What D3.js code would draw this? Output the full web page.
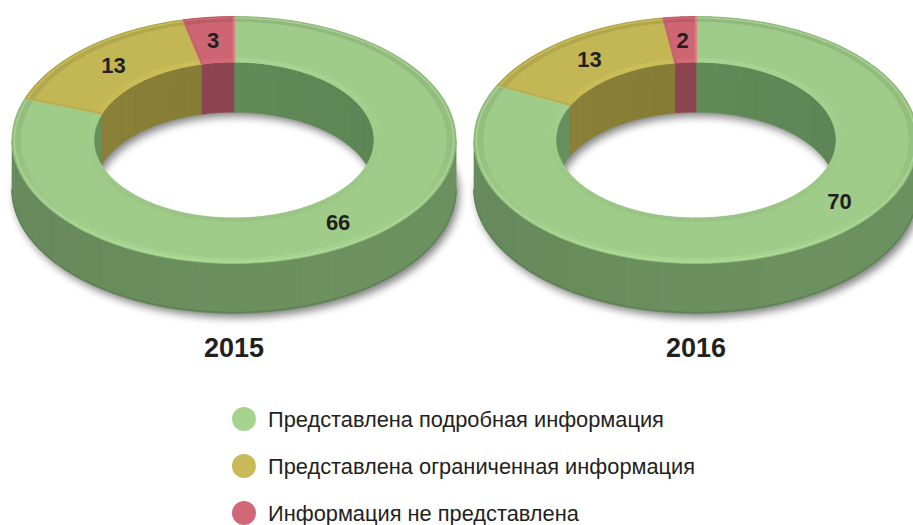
<!DOCTYPE html>
<html><head><meta charset="utf-8">
<script src="https://cdn.jsdelivr.net/npm/d3@7"></script>
<style>body{margin:0;background:#fff} svg{display:block}</style>
</head><body><svg id="c" width="913" height="525"></svg>
<script>
// ---------- data ----------
const years = ["2015", "2016"];
const categories = [
  "Представлена подробная информация",
  "Представлена ограниченная информация",
  "Информация не представлена"
];
const values2015 = [66, 13, 3];
const values2016 = [70, 13, 2];
const series = [values2015, values2016];

// ---------- layout / style ----------
const W = 913, H = 525;
const cxScale = d3.scalePoint().domain(years).range([234, 696]);
const cy = 140, R = 222, r0 = 140, tilt = 0.556, depth = 50;
const labelAngleShift = { "2015": [0, 0, 0], "2016": [-0.36, 0, 0] };
const topColor = d3.scaleOrdinal().domain(categories).range(["#a0cc8a", "#c3b755", "#cd6572"]);
const outerWallColor = d3.scaleOrdinal().domain(categories).range(["#6b8f5f", "#8a7f38", "#914755"]);
const innerWallColor = d3.scaleOrdinal().domain(categories).range(["#628a58", "#857b35", "#8c4452"]);
const legendColor = d3.scaleOrdinal().domain(categories).range(["#a6d48f", "#c8ba57", "#d06878"]);
const font = "'Liberation Sans', Arial, Helvetica, sans-serif";

const svg = d3.select("#c");
const defs = svg.append("defs");
const f = defs.append("filter").attr("id", "blur").attr("x", "-20%").attr("y", "-20%").attr("width", "140%").attr("height", "140%");
f.append("feGaussianBlur").attr("stdDeviation", 4.5);

const pie = d3.pie().sort(null).value(d => d);
const TAU = Math.PI * 2;

function P(cx, a, rad, dy) { return [cx + rad * Math.sin(a), cy - rad * Math.cos(a) * tilt + (dy || 0)]; }
function arcPts(cx, a0, a1, rad, dy) {
  const n = Math.max(2, Math.ceil(Math.abs(a1 - a0) / 0.01) + 1);
  const pts = [];
  for (let i = 0; i < n; i++) pts.push(P(cx, a0 + (a1 - a0) * i / (n - 1), rad, dy));
  return pts;
}
const line = d3.line();
function ringPath(cx, a0, a1, rin, rout) {
  return line(arcPts(cx, a0, a1, rout, 0).concat(arcPts(cx, a1, a0, rin, 0))) + "Z";
}
function wallPath(cx, a0, a1, rad) {
  return line(arcPts(cx, a0, a1, rad, 0).concat(arcPts(cx, a1, a0, rad, depth))) + "Z";
}
function ellipsePath(cx, rad, dy) {
  return line(arcPts(cx, 0, TAU, rad, dy)) + "Z";
}
function intersect(a0, a1, lo, hi) {
  const s = Math.max(a0, lo), e = Math.min(a1, hi);
  return s < e ? [s, e] : null;
}
function facets(s, e, step) {
  const out = [];
  let a = s;
  while (a < e - 1e-6) {
    const nxt = Math.min(e, (Math.floor(a / step + 1e-6) + 1) * step);
    out.push([a, nxt]);
    a = nxt;
  }
  return out;
}

years.forEach((yr, yi) => {
  const cx = cxScale(yr);
  const arcs = pie(series[yi]);
  const g = svg.append("g");

  // shadow
  g.append("path")
    .attr("d", ellipsePath(cx, R, depth) + ellipsePath(cx, r0, depth))
    .attr("fill-rule", "evenodd")
    .attr("fill", "#000").attr("opacity", 0.5)
    .attr("transform", "translate(3,4)")
    .attr("filter", "url(#blur)");

  // inner walls (far side visible)
  const step = TAU / 40;
  arcs.forEach((d, i) => {
    const cat = categories[i];
    [[0, Math.PI / 2], [3 * Math.PI / 2, TAU]].forEach(([lo, hi]) => {
      const iv = intersect(d.startAngle, d.endAngle, lo, hi);
      if (!iv) return;
      facets(iv[0], iv[1], step).forEach(([s, e]) => {
        const mid = (s + e) / 2;
        const shade = 0.06 * Math.sin(mid);
        const c = d3.color(innerWallColor(cat));
        const col = shade > 0 ? c.darker(shade * 2) : c.brighter(-shade * 2);
        g.append("path").attr("d", wallPath(cx, s, e, r0))
          .attr("fill", col).attr("stroke", col).attr("stroke-width", 0.6);
        g.append("path").attr("d", line([P(cx, s, r0, 0), P(cx, s, r0, depth)]))
          .attr("stroke", d3.color(innerWallColor(cat)).brighter(0.15)).attr("stroke-width", 0.6).attr("opacity", 0.6);
      });
    });
  });

  // outer walls (front side visible)
  arcs.forEach((d, i) => {
    const cat = categories[i];
    const iv = intersect(d.startAngle, d.endAngle, Math.PI / 2, 3 * Math.PI / 2);
    if (!iv) return;
    facets(iv[0], iv[1], step).forEach(([s, e]) => {
      const mid = (s + e) / 2;
      const c = d3.color(outerWallColor(cat));
      const t = Math.sin(mid);
      const col = t < 0 ? c.darker(-t * 0.12) : c.brighter(t * 0.04);
      g.append("path").attr("d", wallPath(cx, s, e, R))
        .attr("fill", col).attr("stroke", col).attr("stroke-width", 0.6);
      g.append("path").attr("d", line([P(cx, s, R, 0), P(cx, s, R, depth)]))
        .attr("stroke", c.brighter(0.12)).attr("stroke-width", 0.6).attr("opacity", 0.7);
    });
    g.append("path").attr("d", line(arcPts(cx, iv[0], iv[1], R, depth - 1)))
      .attr("fill", "none").attr("stroke", d3.color(outerWallColor(cat)).darker(0.3)).attr("stroke-width", 1.5);
  });

  // top faces
  arcs.forEach((d, i) => {
    const cat = categories[i];
    const base = d3.color(topColor(cat));
    g.append("path").attr("d", ringPath(cx, d.startAngle, d.endAngle, r0, R))
      .attr("fill", base);
    facets(d.startAngle, d.endAngle, TAU / 120).forEach(([s, e]) => {
      const mid = (s + e) / 2;
      const t = -Math.cos(mid);
      const col = t > 0 ? d3.interpolateRgb(base.darker(0.2), base.brighter(0.12))(t) : base.darker(0.2 + 0.08 * -t);
      g.append("path").attr("d", ringPath(cx, s, e, R - 9, R))
        .attr("fill", col).attr("stroke", col).attr("stroke-width", 0.5);
      const col2 = t > 0 ? base.darker(0.12 * t) : base.brighter(0.12 * -t);
      g.append("path").attr("d", ringPath(cx, s, e, r0, r0 + 7))
        .attr("fill", col2).attr("stroke", col2).attr("stroke-width", 0.5);
    });
    g.append("path").attr("d", line(arcPts(cx, d.startAngle, d.endAngle, R - 2.5, 0)))
      .attr("fill", "none").attr("stroke", base.brighter(0.3)).attr("stroke-width", 1.2).attr("opacity", 0.7);
    g.append("path").attr("d", line(arcPts(cx, d.startAngle, d.endAngle, R, 0)))
      .attr("fill", "none").attr("stroke", base.darker(0.5)).attr("stroke-width", 0.8).attr("opacity", 0.6);
    [d.startAngle, d.endAngle].forEach((a, k) => {
      g.append("path").attr("d", line([P(cx, a, r0, 0), P(cx, a, R, 0)]))
        .attr("stroke", k === 0 ? base.darker(0.2) : base.brighter(0.45))
        .attr("stroke-width", 2.5).attr("opacity", 0.8);
    });
  });

  // data labels
  arcs.forEach((d, i) => {
    const a = (d.startAngle + d.endAngle) / 2 + labelAngleShift[yr][i];
    const [x, y] = P(cx, a, (R + r0) / 2, 0);
    g.append("text").attr("x", x).attr("y", y).attr("dy", "0.36em")
      .attr("text-anchor", "middle")
      .attr("font-family", font).attr("font-weight", "bold").attr("font-size", 22)
      .attr("fill", "#231f20").text(d.data);
  });

  svg.append("text").attr("x", cx).attr("y", 357)
    .attr("text-anchor", "middle")
    .attr("font-family", font).attr("font-weight", "bold").attr("font-size", 27)
    .attr("fill", "#231f20").text(yr);
});

// legend
const leg = svg.append("g");
const legY = d3.scalePoint().domain(categories).range([419, 513]);
categories.forEach(cat => {
  leg.append("circle").attr("cx", 244).attr("cy", legY(cat)).attr("r", 12).attr("fill", legendColor(cat));
  leg.append("text").attr("x", 268).attr("y", legY(cat) + 7.5)
    .attr("font-family", font).attr("font-size", 21.8).attr("fill", "#231f20").text(cat);
});
</script>
</body></html>
